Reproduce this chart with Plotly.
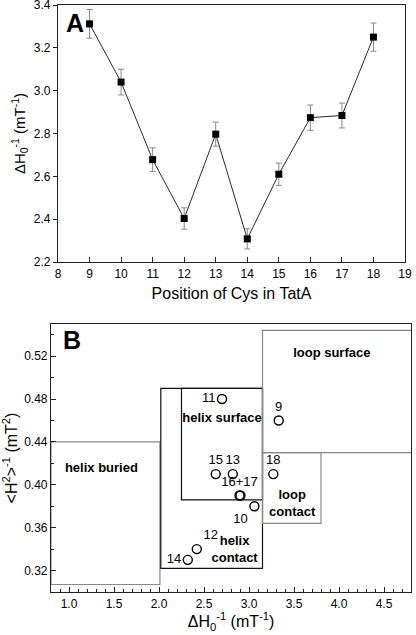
import plotly.graph_objects as go

# ---------- Panel A data ----------
positions = [9, 10, 11, 12, 13, 14, 15, 16, 17, 18]
dH0_inv = [3.312, 3.040, 2.678, 2.403, 2.797, 2.308, 2.610, 2.874, 2.884, 3.250]
dH0_err = [0.067, 0.060, 0.055, 0.050, 0.056, 0.047, 0.052, 0.059, 0.058, 0.066]
a_yticks = [2.2, 2.4, 2.6, 2.8, 3.0, 3.2, 3.4]
a_xticks = [8, 9, 10, 11, 12, 13, 14, 15, 16, 17, 18, 19]

# ---------- Panel B data ----------
b_labels = ["9", "10", "11", "12", "13", "14", "15", "16+17", "", "18"]
b_x = [3.33, 3.06, 2.70, 2.42, 2.82, 2.32, 2.63, 2.895, 2.905, 3.27]
b_y = [0.460, 0.380, 0.480, 0.340, 0.410, 0.330, 0.410, 0.390, 0.390, 0.410]
b_textpos = ["top center", "bottom left", "middle left", "top right", "top center",
             "middle left", "top center", "top center", "top center", "top center"]
b_xticks = [1.0, 1.5, 2.0, 2.5, 3.0, 3.5, 4.0, 4.5]
b_yticks = [0.32, 0.36, 0.40, 0.44, 0.48, 0.52]

# region boxes: name, x0, x1, y0, y1, colour
box_names = ["helix buried", "helix contact", "helix surface", "loop surface", "loop contact"]
box_x0 = [0.80, 2.02, 2.25, 3.15, 3.15]
box_x1 = [2.01, 3.15, 3.15, 4.84, 3.80]
box_y0 = [0.307, 0.322, 0.386, 0.430, 0.364]
box_y1 = [0.440, 0.490, 0.490, 0.544, 0.430]
box_col = ["#888888", "#111111", "#111111", "#888888", "#888888"]

region_text = ["helix buried", "helix surface", "loop surface", "loop<br>contact", "helix<br>contact"]
region_tx = [1.36, 2.70, 3.92, 3.48, 2.84]
region_ty = [0.4147, 0.462, 0.5225, 0.382, 0.339]

FONT = "Liberation Sans, Arial, Helvetica, sans-serif"
W, H = 416, 635


def px(x):
    return x / W


def py(y):
    return 1 - y / H


fig = go.Figure()

fig.add_trace(go.Scatter(
    x=positions, y=dH0_inv, mode="lines+markers",
    line=dict(color="#2a2a2a", width=1),
    marker=dict(symbol="square", size=7, color="black"),
    error_y=dict(type="data", array=dH0_err, color="#888888", thickness=1, width=3),
    xaxis="x", yaxis="y", showlegend=False, hoverinfo="skip"))

fig.add_trace(go.Scatter(
    x=b_x, y=b_y, mode="markers+text", text=b_labels, textposition=b_textpos,
    textfont=dict(family=FONT, size=13, color="black"),
    marker=dict(symbol="circle-open", size=9, color="black", line=dict(width=1.4)),
    xaxis="x2", yaxis="y2", showlegend=False, hoverinfo="skip", cliponaxis=False))

fig.add_trace(go.Scatter(
    x=region_tx, y=region_ty, mode="text", text=region_text,
    textfont=dict(family=FONT, size=13, color="black", weight="bold"),
    xaxis="x2", yaxis="y2", showlegend=False, hoverinfo="skip"))

shapes = []
for x0, x1, y0, y1, c in zip(box_x0, box_x1, box_y0, box_y1, box_col):
    shapes.append(dict(type="rect", xref="x2", yref="y2", x0=x0, x1=x1, y0=y0, y1=y1,
                       line=dict(color=c, width=1.2), fillcolor="rgba(0,0,0,0)", layer="below"))

axis_common = dict(showgrid=False, zeroline=False, showline=True, linecolor="#222222",
                   linewidth=1.2, mirror=True, tickcolor="#222222", automargin=False,
                   ticklabeloverflow="allow",
                   tickfont=dict(family=FONT, size=12, color="black"))

fig.update_layout(
    width=W, height=H,
    margin=dict(l=0, r=0, t=0, b=0),
    paper_bgcolor="white", plot_bgcolor="white",
    font=dict(family=FONT, size=12, color="black"),
    shapes=shapes,
    xaxis=dict(domain=[px(58), px(405)], anchor="y", range=[8, 19],
               tickvals=a_xticks, ticktext=[str(v) for v in a_xticks],
               ticks="inside", ticklen=5,
               title=dict(text="Position of Cys in TatA", font=dict(size=16), standoff=8),
               **axis_common),
    yaxis=dict(domain=[py(262), py(5)], anchor="x", range=[2.2, 3.4],
               tickvals=a_yticks, ticktext=[f"{v:.1f}" for v in a_yticks],
               ticks="outside", ticklen=4,
               title=dict(text="ΔH<sub>0</sub><sup>-1</sup> (mT<sup>-1</sup>)", font=dict(size=15), standoff=4),
               **axis_common),
    xaxis2=dict(domain=[px(51), px(411)], anchor="y2", range=[0.8, 4.8],
                tickvals=b_xticks, ticktext=[f"{v:.1f}" for v in b_xticks],
                ticks="inside", ticklen=5,
                minor=dict(dtick=0.1, tick0=0.8, ticks="inside", ticklen=3, tickcolor="#222222"),
                title=dict(text="ΔH<sub>0</sub><sup>-1</sup> (mT<sup>-1</sup>)", font=dict(size=16), standoff=6),
                **axis_common),
    yaxis2=dict(domain=[py(592), py(324)], anchor="x2", range=[0.30, 0.55],
                tickvals=b_yticks, ticktext=[f"{v:.2f}" for v in b_yticks],
                ticks="inside", ticklen=5,
                minor=dict(dtick=0.02, tick0=0.30, ticks="inside", ticklen=3, tickcolor="#222222"),
                title=dict(text="&lt;H<sup>2</sup>&gt;<sup>-1</sup> (mT<sup>2</sup>)", font=dict(size=16), standoff=6),
                **axis_common),
    annotations=[
        dict(text="<b>A</b>", x=px(75), y=py(23), xref="paper", yref="paper",
             showarrow=False, font=dict(size=25, family=FONT), xanchor="center", yanchor="middle"),
        dict(text="<b>B</b>", x=px(72), y=py(340), xref="paper", yref="paper",
             showarrow=False, font=dict(size=25, family=FONT), xanchor="center", yanchor="middle"),
    ],
)

fig.write_html("out.html", config={"displayModeBar": False},
               post_script="document.body.style.margin='0';document.body.style.overflow='hidden';")
